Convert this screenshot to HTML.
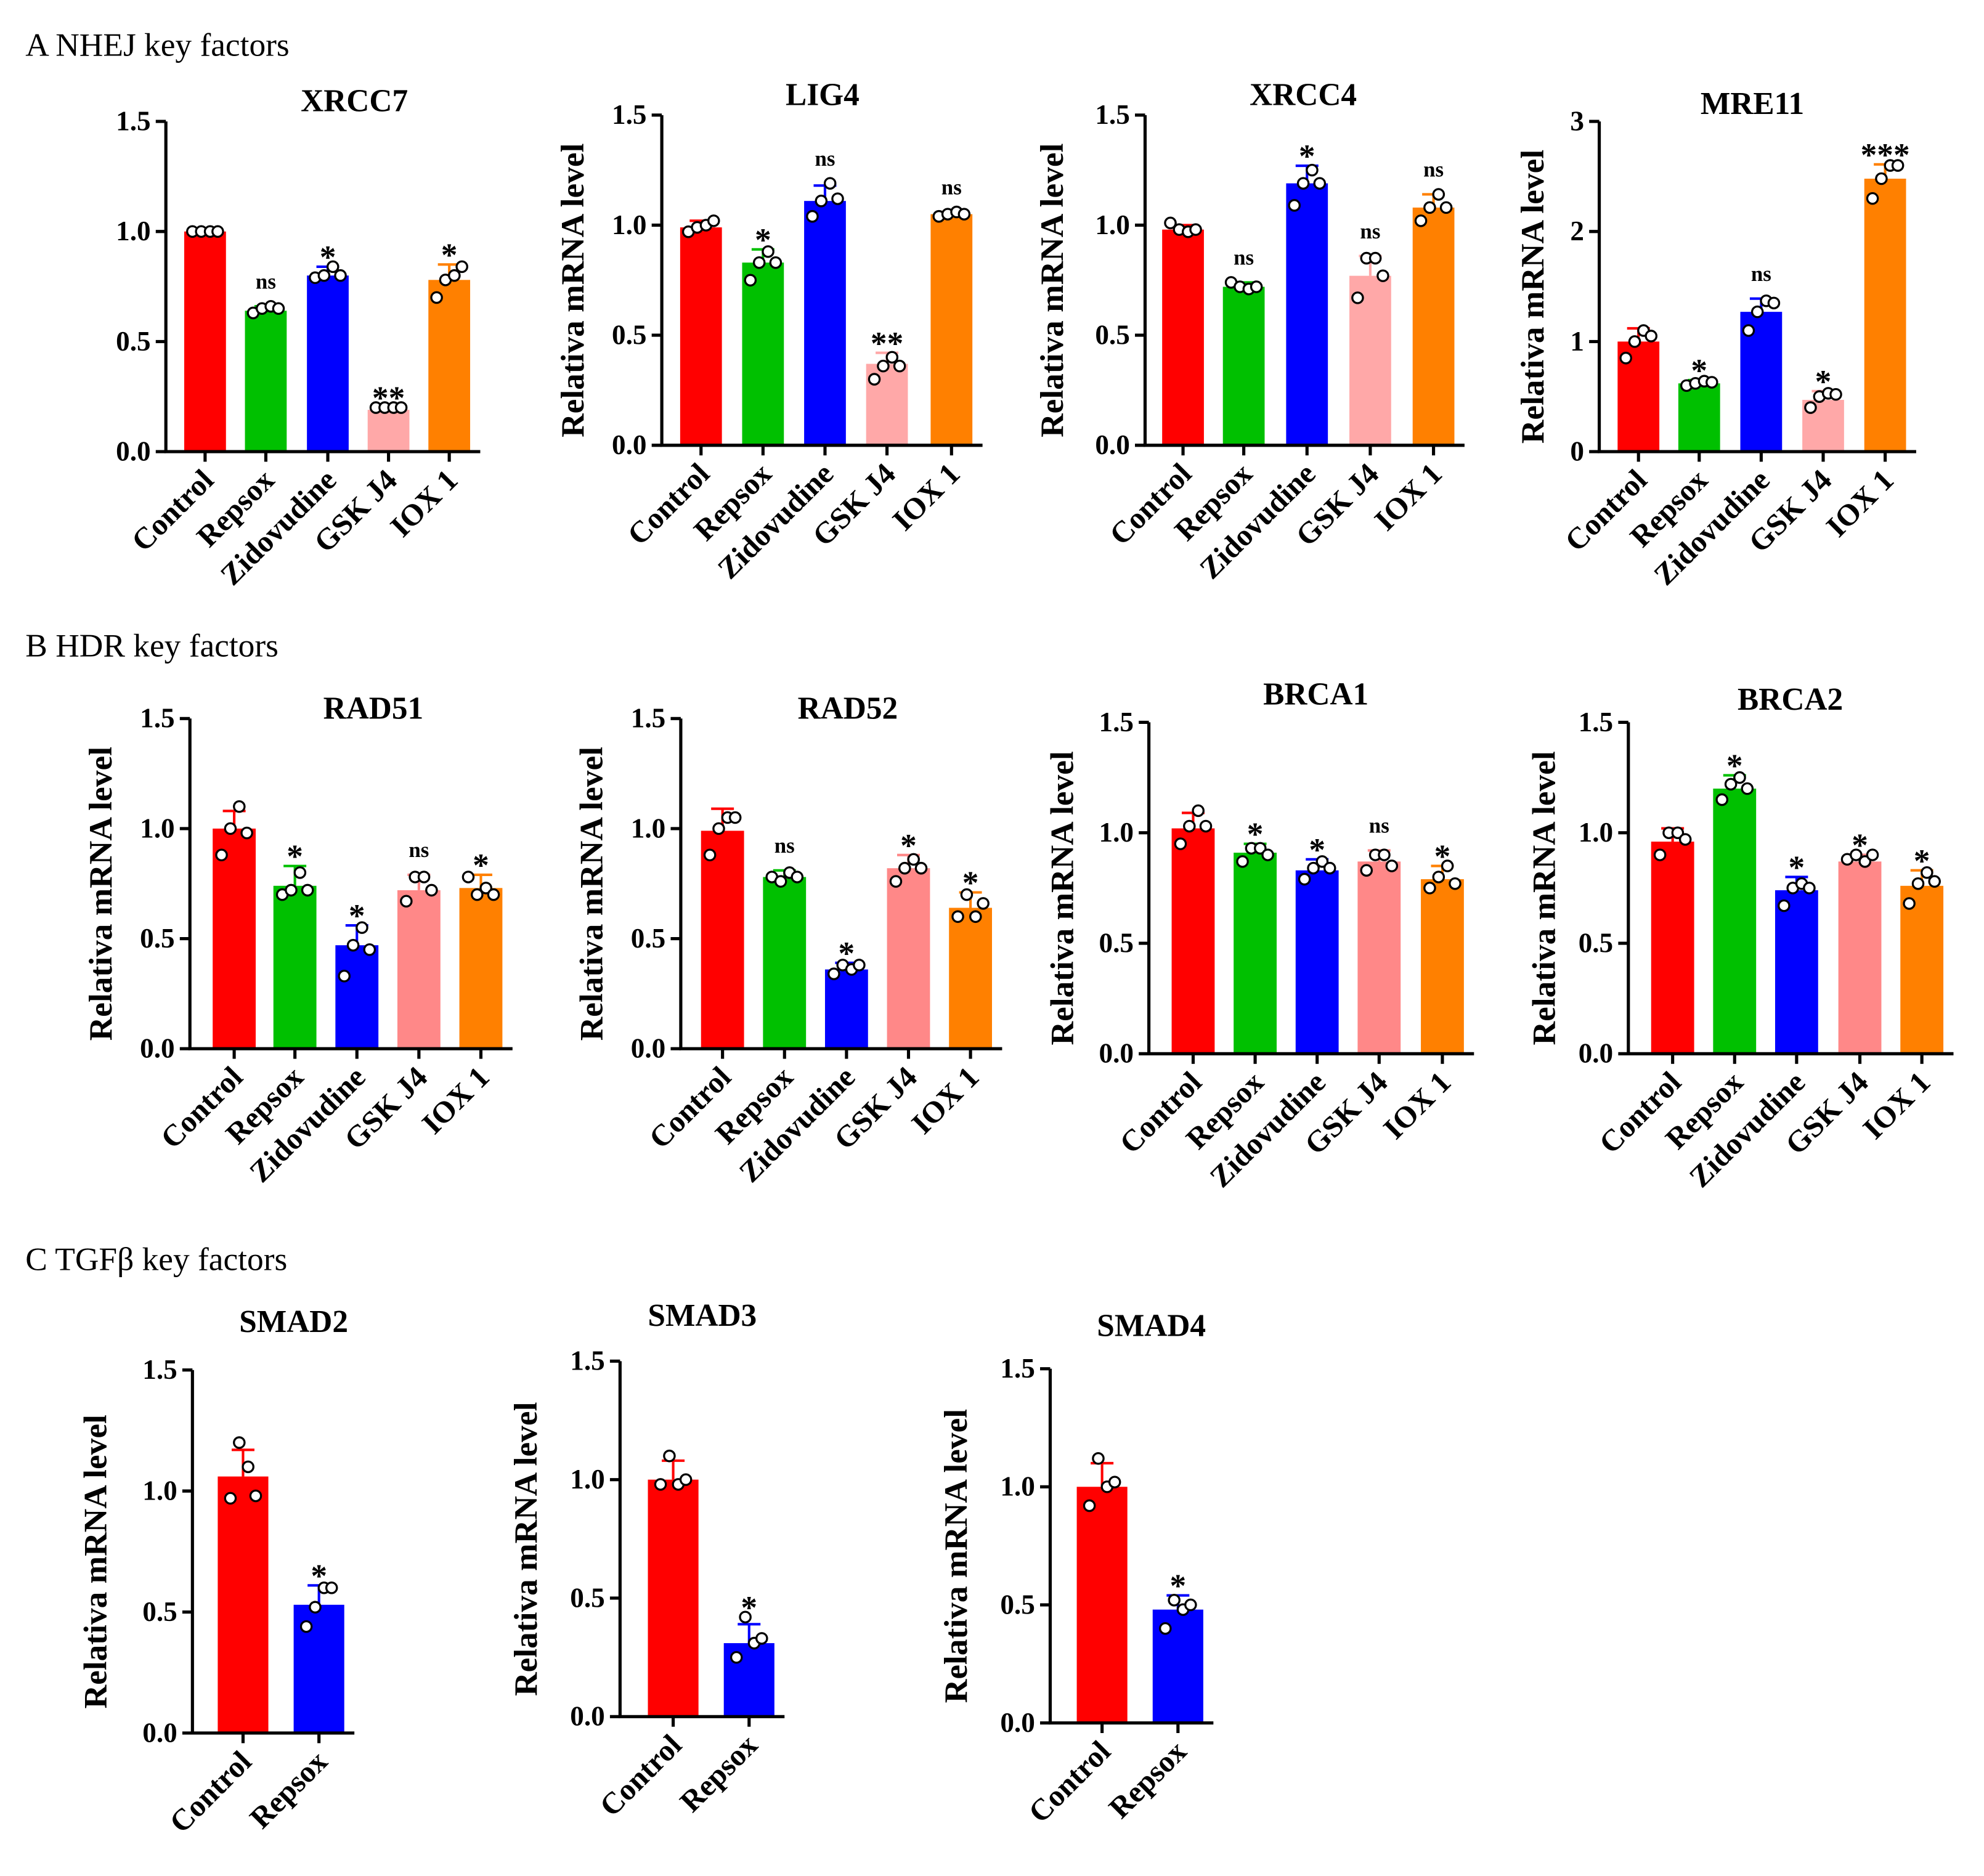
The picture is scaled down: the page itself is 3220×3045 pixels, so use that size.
<!DOCTYPE html>
<html><head><meta charset="utf-8"><style>
html,body{margin:0;padding:0;background:#fff}
svg{display:block}
text{font-family:"Liberation Serif",serif}
</style></head><body>
<svg id="fig" width="3220" height="3045" viewBox="0 0 1568 1483" xmlns="http://www.w3.org/2000/svg">
<text x="20" y="44" font-size="26">A  NHEJ key factors</text>
<text x="20" y="519" font-size="26">B  HDR key factors</text>
<text x="20" y="1004" font-size="26">C  TGFβ key factors</text>
</svg>
<script>
const cats5 = ["Control","Repsox","Zidovudine","GSK J4","IOX 1"];
const cats2 = ["Control","Repsox"];
const colorsA = ["#ff0000","#00c000","#0000ff","#ffa8a8","#ff8000"];
const colorsB = ["#ff0000","#00c000","#0000ff","#ff8888","#ff8000"];
const colorsC = ["#ff0000","#0000ff"];
const ticks15 = [0,0.5,1.0,1.5];
const tickLabels15 = ["0.0","0.5","1.0","1.5"];
const ticks3 = [0,1,2,3];
const tickLabels3 = ["0","1","2","3"];

const xrcc7Mean=[1.0,0.64,0.80,0.19,0.78], xrcc7Err=[0.01,0.02,0.04,0.01,0.07];
const xrcc7Pts=[[1,1,1,1],[0.63,0.65,0.66,0.65],[0.79,0.80,0.84,0.80],[0.2,0.2,0.2,0.2],[0.7,0.78,0.8,0.84]];
const xrcc7Sig=["","ns","*","**","*"];
const lig4Mean=[0.99,0.83,1.11,0.37,1.05], lig4Err=[0.03,0.06,0.07,0.05,0.01];
const lig4Pts=[[0.97,0.99,1.0,1.02],[0.75,0.83,0.88,0.83],[1.04,1.11,1.19,1.12],[0.3,0.36,0.40,0.36],[1.04,1.05,1.06,1.05]];
const lig4Sig=["","*","ns","**","ns"];
const xrcc4Mean=[0.98,0.72,1.19,0.77,1.08], xrcc4Err=[0.02,0.02,0.08,0.09,0.06];
const xrcc4Pts=[[1.01,0.98,0.97,0.98],[0.74,0.72,0.71,0.72],[1.09,1.19,1.25,1.19],[0.67,0.85,0.85,0.77],[1.02,1.08,1.14,1.08]];
const xrcc4Sig=["","ns","*","ns","ns"];
const mre11Mean=[1.0,0.62,1.27,0.47,2.48], mre11Err=[0.12,0.03,0.12,0.08,0.13];
const mre11Pts=[[0.85,1.0,1.1,1.05],[0.6,0.62,0.64,0.63],[1.1,1.27,1.37,1.35],[0.4,0.5,0.53,0.52],[2.3,2.48,2.6,2.6]];
const mre11Sig=["","*","ns","*","***"];
const rad51Mean=[1.0,0.74,0.47,0.72,0.73], rad51Err=[0.08,0.09,0.09,0.07,0.06];
const rad51Pts=[[0.88,1.0,1.1,0.98],[0.7,0.72,0.8,0.72],[0.33,0.47,0.55,0.45],[0.67,0.78,0.78,0.72],[0.78,0.7,0.73,0.7]];
const rad51Sig=["","*","*","ns","*"];
const rad52Mean=[0.99,0.78,0.36,0.82,0.64], rad52Err=[0.1,0.03,0.03,0.06,0.07];
const rad52Pts=[[0.88,1.0,1.05,1.05],[0.78,0.76,0.8,0.78],[0.34,0.38,0.36,0.38],[0.76,0.82,0.86,0.82],[0.6,0.7,0.6,0.66]];
const rad52Sig=["","ns","*","*","*"];
const brca1Mean=[1.02,0.91,0.83,0.87,0.79], brca1Err=[0.07,0.04,0.05,0.05,0.06];
const brca1Pts=[[0.95,1.03,1.1,1.03],[0.87,0.93,0.93,0.9],[0.79,0.84,0.87,0.84],[0.83,0.9,0.9,0.85],[0.75,0.8,0.85,0.77]];
const brca1Sig=["","*","*","ns","*"];
const brca2Mean=[0.96,1.2,0.74,0.87,0.76], brca2Err=[0.06,0.06,0.06,0.03,0.07];
const brca2Pts=[[0.9,1.0,1.0,0.97],[1.15,1.22,1.25,1.2],[0.67,0.75,0.77,0.75],[0.88,0.9,0.87,0.9],[0.68,0.77,0.82,0.78]];
const brca2Sig=["","*","*","*","*"];
const smad2Mean=[1.06,0.53], smad2Err=[0.11,0.08];
const smad2Pts=[[0.97,1.2,1.1,0.98],[0.44,0.52,0.6,0.6]];
const smad2Sig=["","*"];
const smad3Mean=[1.0,0.31], smad3Err=[0.08,0.08];
const smad3Pts=[[0.98,1.1,0.98,1.0],[0.25,0.42,0.31,0.33]];
const smad3Sig=["","*"];
const smad4Mean=[1.0,0.48], smad4Err=[0.1,0.06];
const smad4Pts=[[0.92,1.12,1.0,1.02],[0.4,0.52,0.48,0.5]];
const smad4Sig=["","*"];

const svg=document.getElementById('fig');
const NS="http://www.w3.org/2000/svg";
function mk(tag,attrs,parent){const e=document.createElementNS(NS,tag);for(const k in attrs)e.setAttribute(k,attrs[k]);(parent||svg).appendChild(e);return e;}

function panel(p){
  const g=mk('g',{});
  
  
  const ymax=p.ymax;
  const y=v=>p.y0-(v/ymax)*(p.y0-p.ytop);
  const x=i=>p.bx[i];
  const lastX=p.bx[p.bx.length-1]+p.bw/2+8;
  p.mean.forEach((m,i)=>{
    const r=mk('rect',{x:x(i)-p.bw/2,y:y(m),width:p.bw,height:p.y0-y(m),fill:p.colors[i]},g);
    
    
    const top=y(m+p.err[i]);
    const eb=mk('path',{d:`M${x(i)},${y(m)}V${top}M${x(i)-9},${top}H${x(i)+9}`,stroke:p.colors[i],'stroke-width':2,fill:'none'},g);
    
    
    const offs=[-10,-3,4,10];
    let maxv=m+p.err[i];
    p.pts[i].forEach((v,j)=>{
      maxv=Math.max(maxv,v);
      const c=mk('circle',{cx:x(i)+offs[j],cy:y(v),r:4.2,fill:'#fff',stroke:'#000','stroke-width':1.6},g);
      
      
    });
    if(p.sig[i]){
      const isNs=p.sig[i]==='ns';
      const t=mk('text',{x:x(i),y:y(maxv)-(isNs?14:-1),'text-anchor':'middle','font-size':isNs?17:26,'font-weight':'bold'},g);
      t.textContent=p.sig[i];
      
      
    }
  });
  const ax=mk('path',{d:`M${p.ax},${p.ytop}V${p.y0}H${lastX}`,stroke:'#000','stroke-width':2.5,fill:'none'},g);
  
  
  p.ticks.forEach((t,k)=>{
    mk('line',{x1:p.ax-8,x2:p.ax,y1:y(t),y2:y(t),stroke:'#000','stroke-width':2.5},g);
    const tl=mk('text',{x:p.ax-12,y:y(t)+7,'text-anchor':'end','font-size':22,'font-weight':'bold'},g);
    tl.textContent=p.tickLabels[k];
    
    
  });
  p.cats.forEach((c,i)=>{
    mk('line',{x1:x(i),x2:x(i),y1:p.y0,y2:p.y0+8,stroke:'#000','stroke-width':2.5},g);
    const tx=x(i)+8, ty=p.y0+24;
    const t=mk('text',{x:tx,y:ty,transform:`rotate(-45 ${tx} ${ty})`,'text-anchor':'end','font-size':24,'font-weight':'bold'},g);
    t.textContent=c;
    
    
  });
  const tt=mk('text',{x:p.tx,y:p.ty,'text-anchor':'middle','font-size':25,'font-weight':'bold'},g);
  tt.textContent=p.title;
  
  
  if(p.ylx){
    const cy=(p.ytop+p.y0)/2+8;
    const yl=mk('text',{x:p.ylx,y:cy,transform:`rotate(-90 ${p.ylx} ${cy})`,'text-anchor':'middle','font-size':26,'font-weight':'bold'},g);
    yl.textContent='Relativa mRNA level';
    
    
  }
}
const A={ymax:1.5,ticks:ticks15,tickLabels:tickLabels15,cats:cats5,colors:colorsA,bw:33};
panel({...A,id:'xrcc7',title:'XRCC7',tx:280,ty:88,ax:131,ytop:96,y0:357,bx:[162,210,259,307,355],mean:xrcc7Mean,err:xrcc7Err,pts:xrcc7Pts,sig:xrcc7Sig});
panel({...A,id:'lig4',title:'LIG4',tx:650,ty:83,ax:523,ytop:91,y0:352,bx:[554,603,652,701,752],mean:lig4Mean,err:lig4Err,pts:lig4Pts,sig:lig4Sig,ylx:461});
panel({...A,id:'xrcc4',title:'XRCC4',tx:1030,ty:83,ax:905,ytop:91,y0:352,bx:[935,983,1033,1083,1133],mean:xrcc4Mean,err:xrcc4Err,pts:xrcc4Pts,sig:xrcc4Sig,ylx:840});
panel({...A,id:'mre11',ymax:3,ticks:ticks3,tickLabels:tickLabels3,title:'MRE11',tx:1385,ty:90,ax:1264,ytop:96,y0:357,bx:[1295,1343,1392,1441,1490],mean:mre11Mean,err:mre11Err,pts:mre11Pts,sig:mre11Sig,ylx:1220});
const B={ymax:1.5,ticks:ticks15,tickLabels:tickLabels15,cats:cats5,colors:colorsB,bw:34};
panel({...B,id:'rad51',title:'RAD51',tx:295,ty:568,ax:150,ytop:568,y0:829,bx:[185,233,282,331,380],mean:rad51Mean,err:rad51Err,pts:rad51Pts,sig:rad51Sig,ylx:88});
panel({...B,id:'rad52',title:'RAD52',tx:670,ty:568,ax:538,ytop:568,y0:829,bx:[571,620,669,718,767],mean:rad52Mean,err:rad52Err,pts:rad52Pts,sig:rad52Sig,ylx:476});
panel({...B,id:'brca1',title:'BRCA1',tx:1040,ty:557,ax:908,ytop:571,y0:833,bx:[943,992,1041,1090,1140],mean:brca1Mean,err:brca1Err,pts:brca1Pts,sig:brca1Sig,ylx:848});
panel({...B,id:'brca2',title:'BRCA2',tx:1415,ty:561,ax:1287,ytop:571,y0:833,bx:[1322,1371,1420,1470,1519],mean:brca2Mean,err:brca2Err,pts:brca2Pts,sig:brca2Sig,ylx:1229});
const C={ymax:1.5,ticks:ticks15,tickLabels:tickLabels15,cats:cats2,colors:colorsC,bw:40};
panel({...C,id:'smad2',title:'SMAD2',tx:232,ty:1053,ax:152,ytop:1083,y0:1370,bx:[192,252],mean:smad2Mean,err:smad2Err,pts:smad2Pts,sig:smad2Sig,ylx:84});
panel({...C,id:'smad3',title:'SMAD3',tx:555,ty:1048,ax:490,ytop:1076,y0:1357,bx:[532,592],mean:smad3Mean,err:smad3Err,pts:smad3Pts,sig:smad3Sig,ylx:424});
panel({...C,id:'smad4',title:'SMAD4',tx:910,ty:1056,ax:830,ytop:1082,y0:1362,bx:[871,931],mean:smad4Mean,err:smad4Err,pts:smad4Pts,sig:smad4Sig,ylx:764});
</script>
</body></html>
